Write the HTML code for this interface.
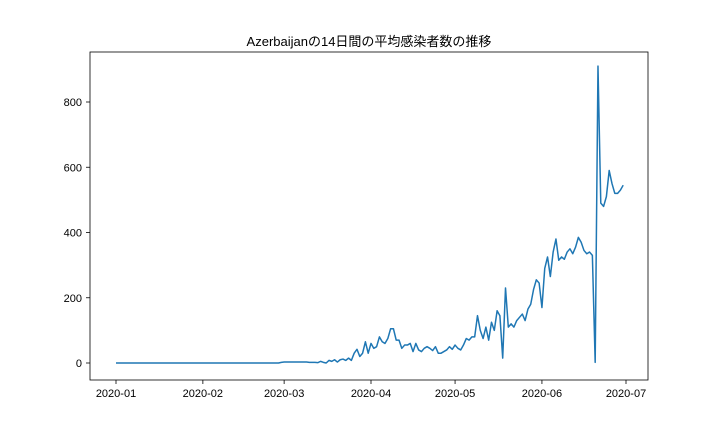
<!DOCTYPE html>
<html><head><meta charset="utf-8"><style>
body{margin:0;background:#fff;}
svg text{font-family:"Liberation Sans","Noto Sans CJK JP",sans-serif;fill:#000;}
</style></head><body>
<svg id="c" width="720" height="432">
<text x="369" y="46" font-size="13" text-anchor="middle">Azerbaijanの14日間の平均感染者数の推移</text>
<rect x="90" y="52" width="558" height="328" fill="none" stroke="#000" stroke-width="0.8"/>
</svg>
<script>
const startDate = "2020-01-01";
const yTicks = [0,200,400,600,800];
const xTickLabels = ["2020-01","2020-02","2020-03","2020-04","2020-05","2020-06","2020-07"];
const xTickDates = ["2020-01-01","2020-02-01","2020-03-01","2020-04-01","2020-05-01","2020-06-01","2020-07-01"];
const janFeb = new Array(59).fill(0);
const march = [2,3,3,3,3,3,3,3,3,3,2,2,2,1,5,2,0,8,5,10,3,10,12,8,15,8,30,42,20,30,65,30,60];
const april = [45,50,80,65,60,75,105,105,70,70,45,55,55,60,35,60,40,35,45,50,45,38,50,30,30,35,40,50,42,55];
const may = [45,40,55,75,70,80,80,145,100,75,110,70,125,100,160,145,15,230,110,120,110,130,140,150,130,165,180,225,255,245,170];
const june = [290,325,265,340,380,315,325,318,340,350,335,355,385,370,345,335,340,330,2,910,490,480,510,590,550,520,520,530,545];
const values = janFeb.concat(march, april, may, june);

const svg = document.getElementById('c');
const NS = "http://www.w3.org/2000/svg";
const t0 = new Date(startDate).getTime();
const dayMs = 86400000;
const X = d => 116 + d * (510/182);
const Y = v => 363 - v * (261/800);
function dayOf(s){return (new Date(s).getTime()-t0)/dayMs;}

yTicks.forEach(v=>{
  const l=document.createElementNS(NS,'line');
  l.setAttribute('x1',86);l.setAttribute('x2',90);l.setAttribute('y1',Y(v));l.setAttribute('y2',Y(v));l.setAttribute('stroke','#000');l.setAttribute('stroke-width','0.8');
  
  
  svg.appendChild(l);
  const t=document.createElementNS(NS,'text');
  t.setAttribute('x',82);t.setAttribute('y',Y(v)+4);t.setAttribute('font-size','11');t.setAttribute('text-anchor','end');
  t.textContent=v;
  
  
  svg.appendChild(t);
});
xTickDates.forEach((s,i)=>{
  const x=X(dayOf(s));
  const l=document.createElementNS(NS,'line');
  l.setAttribute('x1',x);l.setAttribute('x2',x);l.setAttribute('y1',380);l.setAttribute('y2',384);l.setAttribute('stroke','#000');l.setAttribute('stroke-width','0.8');
  
  
  svg.appendChild(l);
  const t=document.createElementNS(NS,'text');
  t.setAttribute('x',x);t.setAttribute('y',397);t.setAttribute('font-size','11');t.setAttribute('text-anchor','middle');
  t.textContent=xTickLabels[i];
  
  
  svg.appendChild(t);
});
const p=document.createElementNS(NS,'polyline');
p.setAttribute('points',values.map((v,i)=>X(i).toFixed(2)+','+Y(v).toFixed(2)).join(' '));
p.setAttribute('fill','none');p.setAttribute('stroke','#1f77b4');p.setAttribute('stroke-width','1.5');p.setAttribute('stroke-linejoin','round');


svg.appendChild(p);
</script>
</body></html>
